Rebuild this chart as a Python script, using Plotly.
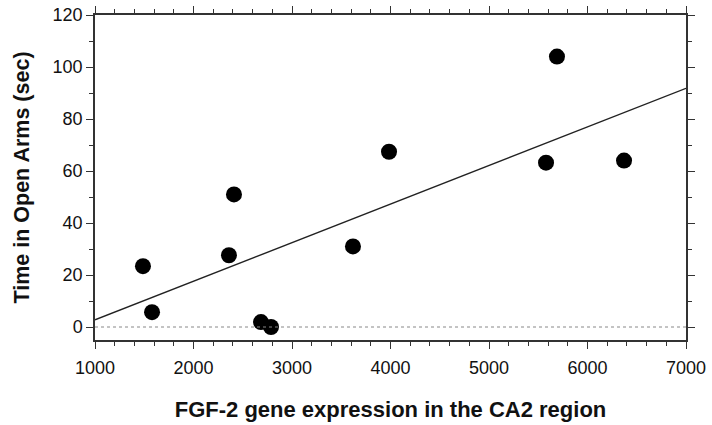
import numpy as np
import plotly.graph_objects as go

fgf2_expression = [1487, 1579, 2360, 2411, 2685, 2787, 3619, 3985, 5579, 5690, 6371]
time_open_arms = [23.4, 5.7, 27.6, 51.0, 1.9, 0.0, 31.0, 67.4, 63.2, 104.0, 64.0]
x_range = [1000, 7000]
y_range = [-5, 120]
x_ticks = [1000, 2000, 3000, 4000, 5000, 6000, 7000]
y_ticks = [0, 20, 40, 60, 80, 100, 120]

slope, intercept = np.polyfit(fgf2_expression, time_open_arms, 1)
fit_x = np.array(x_range, dtype=float)
fit_y = slope * fit_x + intercept

FONT = "Liberation Sans, Arial, sans-serif"

fig = go.Figure()
fig.add_trace(go.Scatter(x=fgf2_expression, y=time_open_arms, mode="markers",
                         marker=dict(color="black", size=16, symbol="circle"),
                         showlegend=False, cliponaxis=False))
fig.add_trace(go.Scatter(x=fit_x, y=fit_y, mode="lines",
                         line=dict(color="#222", width=1.4), showlegend=False))
fig.add_shape(type="line", xref="paper", x0=0, x1=1, yref="y", y0=0, y1=0,
              line=dict(color="#888", width=1, dash="dot"))

axis_common = dict(showline=True, linecolor="#333", linewidth=1.5, mirror="allticks",
                   ticks="outside", ticklen=7, tickwidth=1.3, tickcolor="#333",
                   showgrid=False, zeroline=False, automargin=False,
                   tickfont=dict(family=FONT, size=18, color="#111"))

fig.update_xaxes(range=x_range, tickvals=x_ticks, ticklabelstandoff=4,
                 minor=dict(dtick=200, ticks="outside", ticklen=4, tickcolor="#333", tickwidth=1.2),
                 title=dict(text="<b>FGF-2 gene expression in the CA2 region</b>",
                            font=dict(family=FONT, size=22, color="#111"),
                            standoff=24),
                 **axis_common)
fig.update_yaxes(range=y_range, tickvals=y_ticks,
                 minor=dict(dtick=10, ticks="outside", ticklen=4, tickcolor="#333", tickwidth=1.2),
                 title=dict(text="<b>Time in Open Arms (sec)</b>",
                            font=dict(family=FONT, size=21.5, color="#111"),
                            standoff=17),
                 **axis_common)

fig.update_layout(width=712, height=425, plot_bgcolor="white", paper_bgcolor="white",
                  margin=dict(l=95, r=26, t=15, b=85))
fig.write_html("out.html")
